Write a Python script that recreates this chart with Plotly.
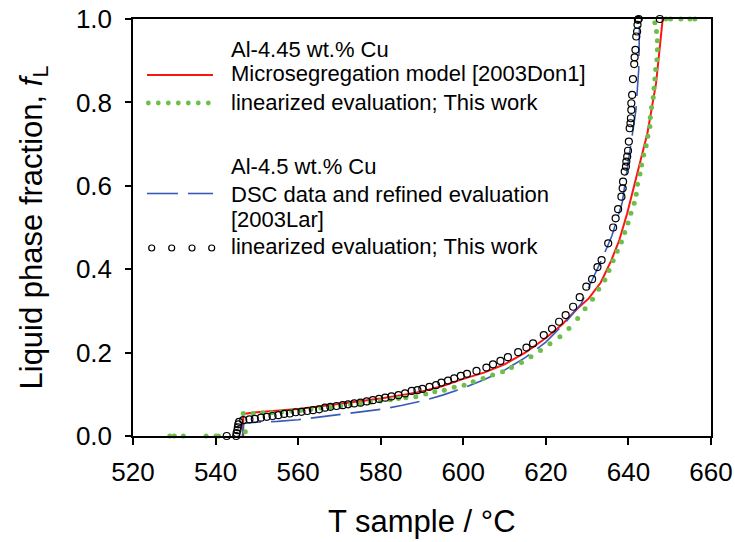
import plotly.graph_objects as go

# ---------------- data ----------------
red_T = [546.7, 546.7, 550, 555, 560, 565, 570, 575, 580, 585, 590, 595, 600, 605, 610,
         615, 620, 624, 627.6, 630.4, 633.3, 635.8, 637.8, 639.7, 641.8, 644.6, 646.7, 648.3]
red_f = [0.0, 0.053, 0.057, 0.061, 0.065, 0.071, 0.077, 0.083, 0.090, 0.098, 0.107, 0.120,
         0.137, 0.152, 0.172, 0.200, 0.235, 0.268, 0.305, 0.330, 0.368, 0.420, 0.470, 0.534,
         0.614, 0.726, 0.846, 1.0]

green_T = [528.9, 530.0, 532.2, 537.7, 540.1, 540.7, 547.2, 546.7, 549.1, 551.4, 553.6, 556.0,
           558.4, 560.7, 563.1, 565.5, 567.9, 570.3, 572.7, 575.1, 577.5, 579.9, 582.3, 584.3,
           586.1, 588.5, 590.9, 593.1, 595.4, 597.8, 600.2, 602.4, 604.8, 607.1, 609.5, 611.7,
           614.1, 616.4, 618.7, 621.0, 623.4, 625.6, 627.7, 629.5, 631.3, 632.8, 634.3, 635.3,
           636.3, 637.3, 638.3, 639.1, 639.9, 640.6, 641.4, 641.9, 642.2, 642.8, 643.2, 643.7,
           644.3, 644.7, 645.2, 645.3, 645.6, 646.0, 646.2, 646.4, 646.6, 646.9, 647.0, 647.0,
           646.8, 646.4, 649.1, 650.2, 652.7, 654.9, 656.1]
green_f = [0.0, 0.0, 0.0, 0.0, 0.0, 0.0, 0.010, 0.054, 0.054, 0.056, 0.056, 0.058,
           0.060, 0.062, 0.064, 0.067, 0.069, 0.072, 0.075, 0.078, 0.081, 0.084, 0.087, 0.090,
           0.092, 0.094, 0.101, 0.106, 0.110, 0.117, 0.122, 0.130, 0.138, 0.146, 0.154, 0.164,
           0.176, 0.190, 0.205, 0.221, 0.238, 0.258, 0.282, 0.305, 0.328, 0.352, 0.374, 0.397,
           0.420, 0.443, 0.465, 0.488, 0.511, 0.534, 0.558, 0.580, 0.604, 0.628, 0.650, 0.674,
           0.696, 0.719, 0.742, 0.764, 0.788, 0.812, 0.834, 0.856, 0.879, 0.902, 0.926, 0.948,
           0.970, 0.991, 1.0, 1.0, 1.0, 1.0, 1.0]

blue_T = [546.5, 546.8, 550, 555, 560, 565, 570, 575, 580, 585, 590, 595, 600, 605, 610,
          615, 620, 625, 628.6, 631, 633.5, 636, 638.5, 640.3, 641.8, 642.5, 642.7]
blue_f = [0.0, 0.030, 0.033, 0.035, 0.039, 0.045, 0.051, 0.058, 0.064, 0.073, 0.084, 0.098,
          0.115, 0.135, 0.158, 0.188, 0.225, 0.275, 0.318, 0.370, 0.422, 0.480, 0.560, 0.680,
          0.780, 0.880, 1.0]

circ_T = [542.7, 545.0, 545.1, 545.3, 545.4, 545.5, 545.7, 546.7, 548.2, 549.5, 551.0, 552.4,
          553.8, 555.2, 556.6, 558.0, 559.4, 560.8, 562.2, 563.6, 565.1, 566.5, 567.8, 569.3,
          570.8, 572.1, 573.6, 575.1, 576.6, 578.1, 579.6, 581.1, 582.6, 584.3, 585.9, 587.5,
          588.9, 590.1, 591.8, 593.4, 594.7, 596.3, 597.8, 599.4, 600.9, 603.2, 605.6, 607.2,
          609.0, 610.8, 613.3, 615.3, 616.9, 619.5, 621.5, 623.2, 624.8, 626.6, 628.2, 629.8,
          631.2, 632.5, 633.5, 635.1, 636.3, 636.9, 637.5, 638.3, 638.6, 638.7, 639.1, 639.4,
          639.5, 639.7, 639.9, 640.1, 640.3, 640.5, 640.6, 640.7, 640.7, 640.9, 641.1, 641.4,
          641.5, 641.7, 641.9, 642.1, 642.2, 642.3, 642.5, 647.6]
circ_f = [0.0, 0.0, 0.007, 0.014, 0.021, 0.028, 0.034, 0.038, 0.040, 0.041, 0.044, 0.046,
          0.048, 0.050, 0.053, 0.054, 0.057, 0.058, 0.060, 0.062, 0.064, 0.068, 0.070, 0.072,
          0.074, 0.076, 0.078, 0.080, 0.083, 0.086, 0.089, 0.092, 0.095, 0.098, 0.102, 0.108,
          0.110, 0.113, 0.118, 0.122, 0.128, 0.133, 0.138, 0.144, 0.149, 0.156, 0.164, 0.172,
          0.180, 0.189, 0.201, 0.212, 0.222, 0.242, 0.257, 0.274, 0.290, 0.310, 0.333, 0.358,
          0.376, 0.405, 0.422, 0.462, 0.500, 0.522, 0.544, 0.574, 0.594, 0.610, 0.634, 0.646,
          0.658, 0.670, 0.684, 0.706, 0.738, 0.750, 0.762, 0.782, 0.798, 0.818, 0.856, 0.892,
          0.908, 0.926, 0.958, 0.970, 0.986, 0.998, 1.0, 1.0]

x_ticks = [520, 540, 560, 580, 600, 620, 640, 660]
y_ticks = [0.0, 0.2, 0.4, 0.6, 0.8, 1.0]

legend_lines = ["Al-4.45 wt.% Cu", "Microsegregation model [2003Don1]",
                "linearized evaluation; This work", "Al-4.5 wt.% Cu",
                "DSC data and refined evaluation", "[2003Lar]",
                "linearized evaluation; This work"]

# ---------------- styling / layout ----------------
W, H = 735, 542
ML, MR, MT, MB = 133, 24, 19, 106
PW, PH = W - ML - MR, H - MT - MB
FONT = "Liberation Sans, Arial, sans-serif"
RED, GREEN, BLUE = "#ff1414", "#6cc04a", "#3a5ab8"


def px2x(px):
    return (px - ML) / PW


def py2y(py):
    return (H - MB - py) / PH


fig = go.Figure()
fig.add_trace(go.Scatter(x=red_T, y=red_f, mode="lines",
                         line=dict(color=RED, width=2), showlegend=False))
fig.add_trace(go.Scatter(x=blue_T, y=blue_f, mode="lines",
                         line=dict(color=BLUE, width=1.6, dash="30px,10px"),
                         showlegend=False))
fig.add_trace(go.Scatter(x=green_T, y=green_f, mode="markers",
                         marker=dict(color=GREEN, size=5, line=dict(width=0)),
                         cliponaxis=False, showlegend=False))
fig.add_trace(go.Scatter(x=circ_T, y=circ_f, mode="markers",
                         marker=dict(symbol="circle-open", color="black", size=7,
                                     line=dict(width=1.2, color="black")),
                         cliponaxis=False, showlegend=False))

shapes = []
annotations = []

# manual legend
text_x = px2x(229)
text_y = [49, 74, 102, 166, 194, 219, 247]
for t, yy in zip(legend_lines, text_y):
    annotations.append(dict(x=text_x, y=py2y(yy), xref="paper", yref="paper",
                            text=t, showarrow=False, xanchor="left", yanchor="middle",
                            font=dict(family=FONT, size=22, color="black")))
shapes.append(dict(type="line", xref="paper", yref="paper", x0=px2x(147), x1=px2x(213),
                   y0=py2y(75), y1=py2y(75), line=dict(color=RED, width=2)))
for px in [148.3, 158.3, 168.3, 178.3, 188.3, 198.3, 208.3]:
    shapes.append(dict(type="circle", xref="paper", yref="paper", xsizemode="pixel",
                       ysizemode="pixel", xanchor=px2x(px), yanchor=py2y(103),
                       x0=-2.4, x1=2.4, y0=-2.4, y1=2.4,
                       fillcolor=GREEN, line=dict(width=0)))
shapes.append(dict(type="line", xref="paper", yref="paper", x0=px2x(147), x1=px2x(178),
                   y0=py2y(193.5), y1=py2y(193.5), line=dict(color=BLUE, width=1.6)))
shapes.append(dict(type="line", xref="paper", yref="paper", x0=px2x(188), x1=px2x(213),
                   y0=py2y(193.5), y1=py2y(193.5), line=dict(color=BLUE, width=1.6)))
for px in [151.7, 171.7, 192.0, 211.7]:
    shapes.append(dict(type="circle", xref="paper", yref="paper", xsizemode="pixel",
                       ysizemode="pixel", xanchor=px2x(px), yanchor=py2y(248),
                       x0=-3, x1=3, y0=-3, y1=3,
                       line=dict(color="black", width=1.2)))

# axis titles
annotations.append(dict(x=0.5, y=py2y(521), xref="paper", yref="paper",
                        text="T sample / °C", showarrow=False, xanchor="center",
                        yanchor="middle", font=dict(family=FONT, size=31, color="black")))
annotations.append(dict(x=px2x(33), y=0.5, xref="paper", yref="paper",
                        text="Liquid phase fraction, <i>f</i><sub>L</sub>", showarrow=False,
                        xanchor="center", yanchor="middle", textangle=-90,
                        font=dict(family=FONT, size=31, color="black")))

fig.update_layout(
    width=W, height=H, margin=dict(l=ML, r=MR, t=MT, b=MB, autoexpand=False),
    paper_bgcolor="white", plot_bgcolor="white",
    font=dict(family=FONT, color="black"),
    shapes=shapes, annotations=annotations, showlegend=False,
)
fig.update_xaxes(range=[520, 660], tickvals=x_ticks, ticktext=[str(v) for v in x_ticks],
                 ticks="outside", ticklen=7, tickwidth=1.5, tickcolor="black",
                 showline=True, linecolor="black", linewidth=1.5, mirror=True,
                 showgrid=False, zeroline=False, tickfont=dict(family=FONT, size=26),
                 ticklabelstandoff=5)
fig.update_yaxes(range=[0, 1], tickvals=y_ticks, ticktext=[f"{v:.1f}" for v in y_ticks],
                 ticks="outside", ticklen=6, tickwidth=1.5, tickcolor="black",
                 showline=True, linecolor="black", linewidth=1.5, mirror=True,
                 showgrid=False, zeroline=False, tickfont=dict(family=FONT, size=26),
                 ticklabelstandoff=8)

fig.write_html("out.html")
